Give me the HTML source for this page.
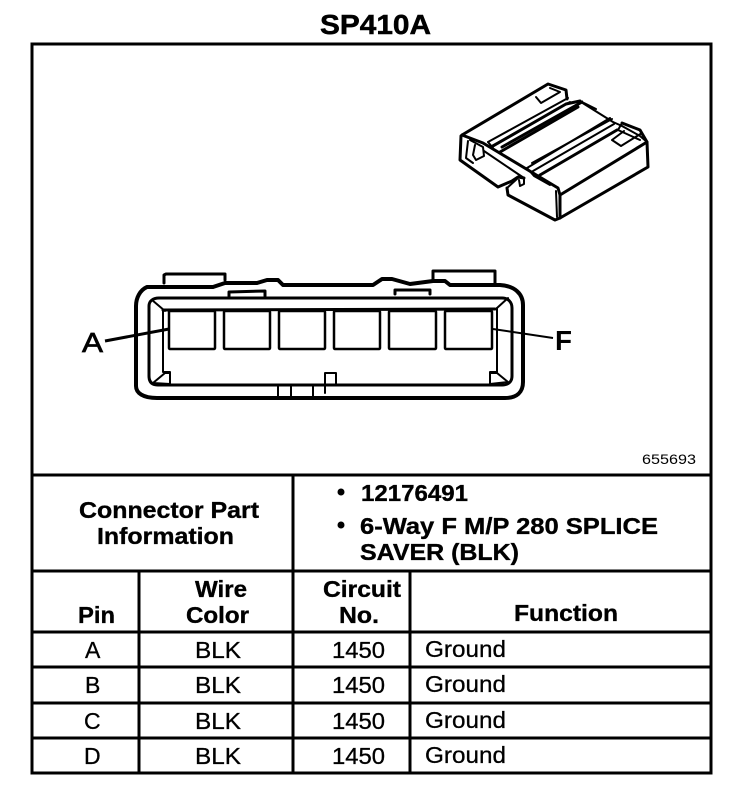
<!DOCTYPE html>
<html><head><meta charset="utf-8"><style>
html,body{margin:0;padding:0;background:#fff;width:752px;height:800px;overflow:hidden}
svg{display:block}
text{font-family:"Liberation Sans",sans-serif;fill:#000}
.b{font-weight:bold;font-size:23px;stroke:#000;stroke-width:.35}
.r{font-size:23px;stroke:#000;stroke-width:.3}
.l{stroke:#000;stroke-width:3;fill:none}
.d{stroke:#000;fill:none;stroke-width:2;stroke-linejoin:round;stroke-linecap:round}
.t{stroke:#000;fill:none;stroke-width:3;stroke-linejoin:round;stroke-linecap:round}
</style></head><body>
<svg width="752" height="800" viewBox="0 0 752 800" xmlns="http://www.w3.org/2000/svg">
<text x="320" y="34" class="b" style="font-size:28px;stroke-width:.5" textLength="111" lengthAdjust="spacingAndGlyphs">SP410A</text>

<!-- table frame -->
<rect x="32" y="44" width="679" height="729" class="l"/>
<path class="l" d="M32 475H711M32 571H711M32 632H711M32 667H711M32 703H711M32 738H711M293 475V773M139 571V773M410 571V773"/>

<!-- 3D connector -->
<g>
<path class="t" d="M462 135L548 84L566 90L567 99"/>
<path class="t" d="M461 136L460 160L498 187L512 181L518 177L524 178"/>
<path class="t" d="M507 188L508 195L555 220L560 218L648 167L647 142L640 130L622 123"/>
<path class="t" d="M462 135L483 143L558 188L560 195L560 218"/>
<path class="d" d="M556 191L557 217"/>
<path class="t" d="M560 195L647 142"/>
<path class="d" d="M468 141L466 158L473 163"/>
<path class="d" d="M470 140L483 147L484 156L476 160L473 155L475 145"/>
<path class="d" d="M484 151L518 174L524 178L524 184L520 186L519 180"/>
<path class="d" d="M507 188L518 178"/>
<path class="d" d="M488 142L568 98"/>
<path class="d" d="M490 147L570 102"/>
<path class="d" d="M488 142L493 148"/>
<path class="t" d="M493 146L566 104L580 101"/>
<path class="d" d="M536 97L541 103L560 92L550 88"/>
<path class="t" d="M502 147L582 102"/>
<path class="t" d="M500 152L578 107"/>
<path class="d" d="M581 102L613 122L622 126"/>
<path class="d" d="M584 103L596 109"/>
<path class="d" d="M527 168L610 118"/>
<path class="d" d="M532 163L612 119"/>
<path class="d" d="M533 171L614 124"/>
<path class="t" d="M540 175L617 130"/>
<path class="d" d="M527 168L534 176L550 185"/>
<path class="d" d="M622 126L640 136L647 142"/>
<path class="d" d="M622 123L618 130L640 140M612 140L621 146L642 133M612 140L624 131"/>
</g>

<!-- face view -->
<g>
<path class="t" style="stroke-width:4" d="M147 287C140 290 136 298 136 306V386C136 393 143 398 157 398H505C517 398 523 392 523 382V305C523 294 515 286 500 285H450L445 281H433L410 284L392 279H382L373 285H283L278 280H267L257 283H225L213 287H164H147Z"/>
<path class="t" d="M164 283V275L166 274H225V280"/>
<path class="t" d="M433 280V271H495V283"/>
<path class="t" d="M159 298H502C508 298 512 302 512 308V376C512 382 508 385 502 385H158C152 385 149 382 149 376V306C149 301 153 298 159 298Z"/>
<path class="t" d="M229 296V292L265 291V296M395 294V290H430V294"/>
<path class="t" d="M163 310L495 309"/>
<path class="d" d="M152 300L165 311M508 298L497 308"/>
<path class="d" d="M163 310V372H170V385"/>
<path class="d" d="M497 308V372H490V385"/>
<path d="M153 383L165 373H170V384Z" fill="#fff" stroke="#000" stroke-width="2"/>
<path d="M508 382L497 373H490V384Z" fill="#fff" stroke="#000" stroke-width="2"/>
<rect x="169" y="311" width="46" height="38" rx="1" class="t" style="stroke-width:2.5"/>
<rect x="224" y="311" width="46" height="38" rx="1" class="t" style="stroke-width:2.5"/>
<rect x="279" y="311" width="46" height="38" rx="1" class="t" style="stroke-width:2.5"/>
<rect x="334" y="311" width="46" height="38" rx="1" class="t" style="stroke-width:2.5"/>
<rect x="389" y="311" width="47" height="38" rx="1" class="t" style="stroke-width:2.5"/>
<rect x="445" y="311" width="47" height="38" rx="1" class="t" style="stroke-width:2.5"/>
<path class="d" d="M325 393V373H336V385M278 386V397M291 386V397M313 386V397"/>
<path class="t" style="stroke-linecap:butt" d="M105 341L169 329"/>
<path class="d" style="stroke-linecap:butt" d="M493 329L553 338"/>
</g>
<text x="82" y="352" style="font-size:28px;stroke:#000;stroke-width:.7" textLength="21" lengthAdjust="spacingAndGlyphs">A</text>
<text x="555" y="350" style="font-size:28px;font-weight:bold" textLength="17" lengthAdjust="spacingAndGlyphs">F</text>

<text x="642" y="464" style="font-size:14px" textLength="54" lengthAdjust="spacingAndGlyphs">655693</text>

<text x="79" y="518" class="b" textLength="180" lengthAdjust="spacingAndGlyphs">Connector Part</text>
<text x="97" y="544" class="b" textLength="137" lengthAdjust="spacingAndGlyphs">Information</text>
<circle cx="341" cy="492" r="3.5"/>
<circle cx="341" cy="525" r="3.5"/>
<text x="361" y="501" class="b" textLength="107" lengthAdjust="spacingAndGlyphs">12176491</text>
<text x="360" y="534" class="b" textLength="298" lengthAdjust="spacingAndGlyphs">6-Way F M/P 280 SPLICE</text>
<text x="360" y="560" class="b" textLength="159" lengthAdjust="spacingAndGlyphs">SAVER (BLK)</text>

<text x="195" y="597" class="b" textLength="52" lengthAdjust="spacingAndGlyphs">Wire</text>
<text x="186" y="623" class="b" textLength="63" lengthAdjust="spacingAndGlyphs">Color</text>
<text x="78" y="623" class="b" textLength="37" lengthAdjust="spacingAndGlyphs">Pin</text>
<text x="323" y="597" class="b" textLength="78" lengthAdjust="spacingAndGlyphs">Circuit</text>
<text x="339" y="623" class="b" textLength="40" lengthAdjust="spacingAndGlyphs">No.</text>
<text x="514" y="621" class="b" textLength="104" lengthAdjust="spacingAndGlyphs">Function</text>

<text x="85" y="658" class="r">A</text>
<text x="85" y="693" class="r">B</text>
<text x="84" y="729" class="r">C</text>
<text x="84" y="764" class="r">D</text>

<text x="195" y="658" class="r" textLength="46" lengthAdjust="spacingAndGlyphs">BLK</text>
<text x="195" y="693" class="r" textLength="46" lengthAdjust="spacingAndGlyphs">BLK</text>
<text x="195" y="729" class="r" textLength="46" lengthAdjust="spacingAndGlyphs">BLK</text>
<text x="195" y="764" class="r" textLength="46" lengthAdjust="spacingAndGlyphs">BLK</text>

<text x="332" y="658" class="r" textLength="53" lengthAdjust="spacingAndGlyphs">1450</text>
<text x="332" y="693" class="r" textLength="53" lengthAdjust="spacingAndGlyphs">1450</text>
<text x="332" y="729" class="r" textLength="53" lengthAdjust="spacingAndGlyphs">1450</text>
<text x="332" y="764" class="r" textLength="53" lengthAdjust="spacingAndGlyphs">1450</text>

<text x="425" y="657" class="r" textLength="81" lengthAdjust="spacingAndGlyphs">Ground</text>
<text x="425" y="692" class="r" textLength="81" lengthAdjust="spacingAndGlyphs">Ground</text>
<text x="425" y="728" class="r" textLength="81" lengthAdjust="spacingAndGlyphs">Ground</text>
<text x="425" y="763" class="r" textLength="81" lengthAdjust="spacingAndGlyphs">Ground</text>
</svg>
</body></html>
